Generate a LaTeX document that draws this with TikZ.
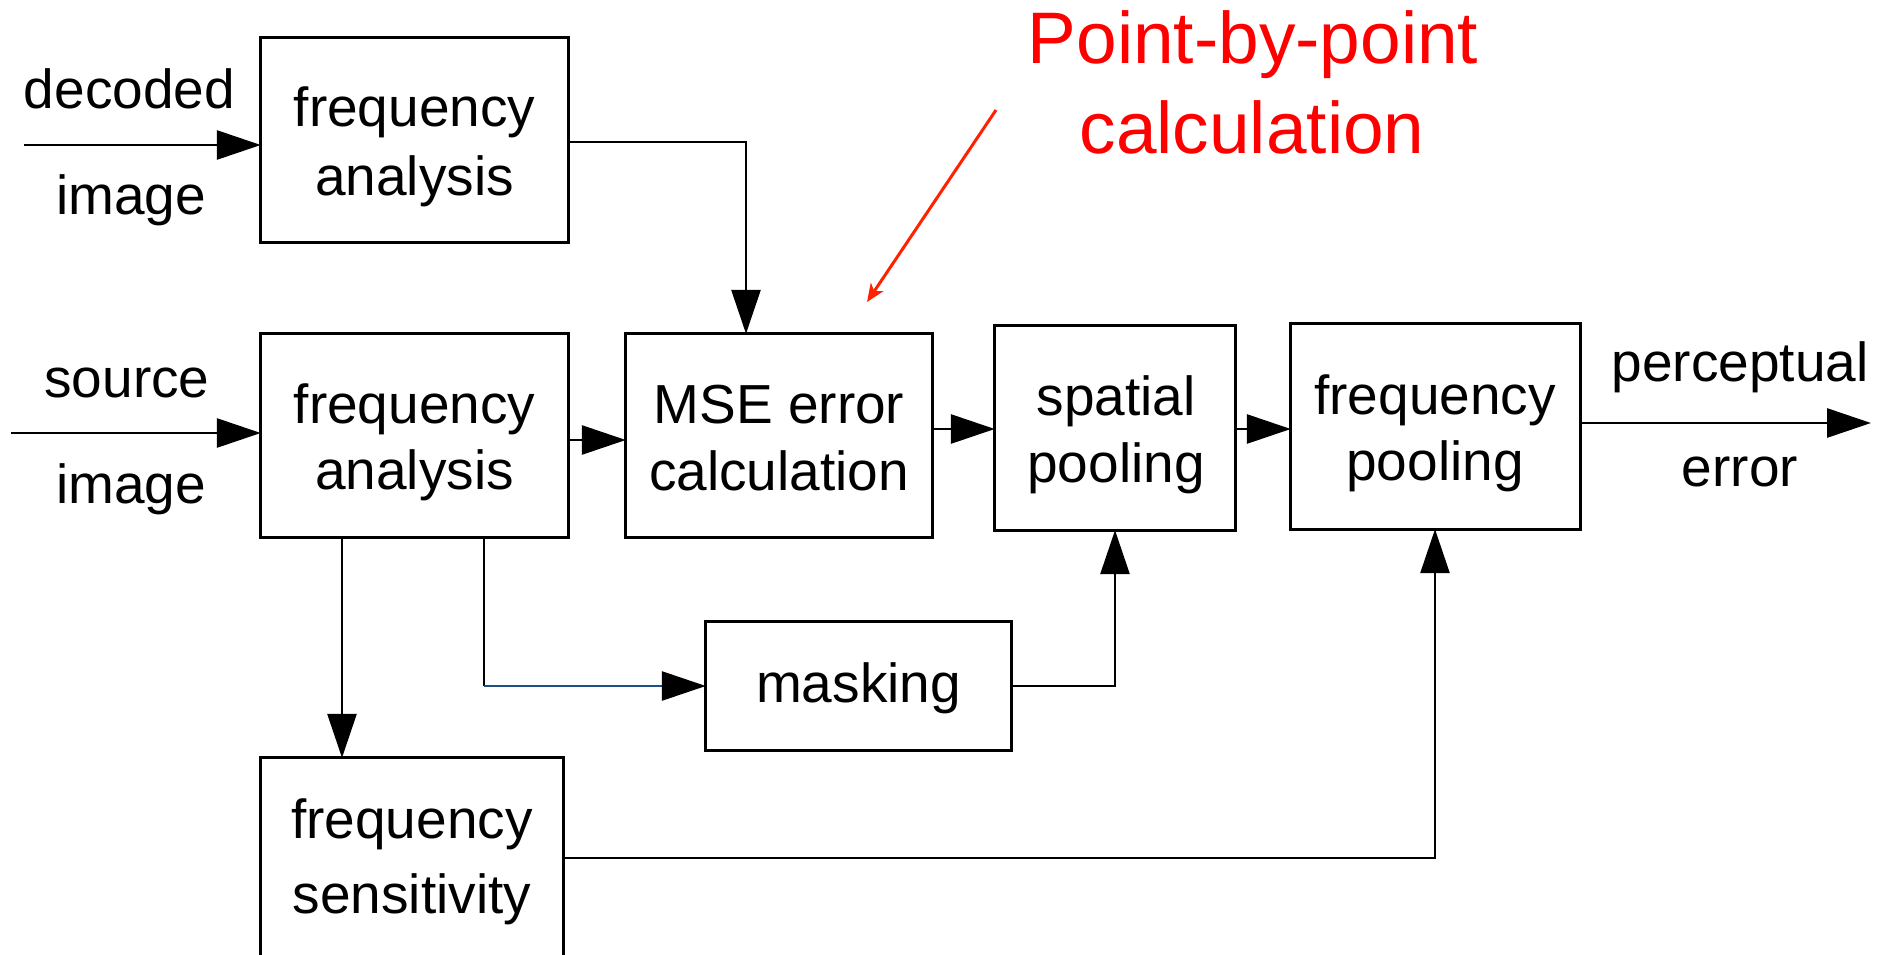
\documentclass[tikz,border=0pt]{standalone}
\usepackage{fontspec}
\setmainfont{Liberation Sans}
\usetikzlibrary{arrows.meta}
\definecolor{ptred}{RGB}{255,0,0}
\definecolor{arrred}{RGB}{255,34,0}
\definecolor{lineblue}{RGB}{30,80,130}
\begin{document}
\begin{tikzpicture}[x=1pt,y=-1pt,
  blk/.style={draw=black,line width=3.2pt},
  lbl/.style={anchor=base,inner sep=0pt,font=\fontsize{55}{66}\selectfont},
  note/.style={anchor=base,inner sep=0pt,text=ptred,font=\fontsize{73}{88}\selectfont},
  conn/.style={line width=2.8pt,-{Triangle[length=44pt,width=29pt]}},
  plain/.style={line width=2.8pt},
  redarr/.style={draw=arrred,line width=3pt,-{Stealth[length=18pt,width=15pt,inset=5pt]}}]
\clip (0,0) rectangle (1890,955);
\fill[white] (0,0) rectangle (1890,955);
% boxes
\node[inner sep=0pt,minimum width=307pt,minimum height=204.5pt] (decb) at (414.5,139.75) {};
\node[inner sep=0pt,minimum width=307pt,minimum height=203.5pt] (srcb) at (414.5,435.75) {};
\node[inner sep=0pt,minimum width=306pt,minimum height=203.5pt] (mseb) at (779,435.75) {};
\node[inner sep=0pt,minimum width=240pt,minimum height=204pt] (spab) at (1115,428) {};
\node[inner sep=0pt,minimum width=289pt,minimum height=205pt] (fpob) at (1435.5,426.5) {};
\node[inner sep=0pt,minimum width=305pt,minimum height=128pt] (maskb) at (858.5,686) {};
\node[inner sep=0pt,minimum width=302pt,minimum height=300pt] (sensb) at (412,908) {};
\foreach \b in {decb,srcb,mseb,spab,fpob,maskb,sensb}{
  \draw[blk] (\b.north west) rectangle (\b.south east);
}
% texts
\node[lbl] (t1) at (129.5,109) {decoded};
\node[lbl] (t2) at (131,214) {image};
\node[lbl] (t3) at (127,397.5) {source};
\node[lbl] (t4) at (131,503) {image};
\node[lbl] (t5) at (414.5,127) {frequency};
\node[lbl] (t6) at (414.5,195) {analysis};
\node[lbl] (t7) at (414.5,423) {frequency};
\node[lbl] (t8) at (414.5,489) {analysis};
\node[lbl] (t9) at (779,423) {MSE error};
\node[lbl] (t10) at (779,490) {calculation};
\node[lbl] (t11) at (1116,415) {spatial};
\node[lbl] (t12) at (1116,482) {pooling};
\node[lbl] (t13) at (1435,414) {frequency};
\node[lbl] (t14) at (1435,480) {pooling};
\node[lbl] (t15) at (858.5,702) {masking};
\node[lbl] (t16) at (412,838) {frequency};
\node[lbl] (t17) at (412,913) {sensitivity};
\node[lbl] (t18) at (1740,381) {perceptual};
\node[lbl] (t19) at (1740,486) {error};
\node[note] (n1) at (1253,63.6) {Point-by-point};
\node[note] (n2) at (1252,153.6) {calculation};
% connectors
\coordinate (decin) at (24,145);
\draw[conn] (decin) -- (decin -| decb.west);
\coordinate (srcin) at (11,433);
\draw[conn] (srcin) -- (srcin -| srcb.west);
\coordinate (c1) at (746,142);
\draw[conn] (c1 -| decb.east) -| (c1 |- mseb.north);
\coordinate (c2) at (600,440);
\draw[conn] (c2 -| srcb.east) -- (c2 -| mseb.west);
\coordinate (c3) at (960,429);
\draw[conn] (c3 -| mseb.east) -- (c3 -| spab.west);
\coordinate (c4) at (1260,429);
\draw[conn] (c4 -| spab.east) -- (c4 -| fpob.west);
\coordinate (outp) at (1871,423);
\draw[conn] (outp -| fpob.east) -- (outp);
\coordinate (c5) at (342,600);
\draw[conn] (c5 |- srcb.south) -- (c5 |- sensb.north);
\coordinate (c6) at (484,686);
\draw[plain] (c6 |- srcb.south) -- (c6);
\draw[conn,draw=lineblue,-{Triangle[length=44pt,width=29pt,color=black]}] (c6) -- (c6 -| maskb.west);
\coordinate (c7) at (1115,686);
\draw[conn] (c7 -| maskb.east) -| (c7 |- spab.south);
\coordinate (c8) at (1435,858);
\draw[conn] (c8 -| sensb.east) -| (c8 |- fpob.south);
\coordinate (r1) at (996,110);
\coordinate (r2) at (867,302);
\draw[redarr] (r1) -- (r2);
\end{tikzpicture}
\end{document}
